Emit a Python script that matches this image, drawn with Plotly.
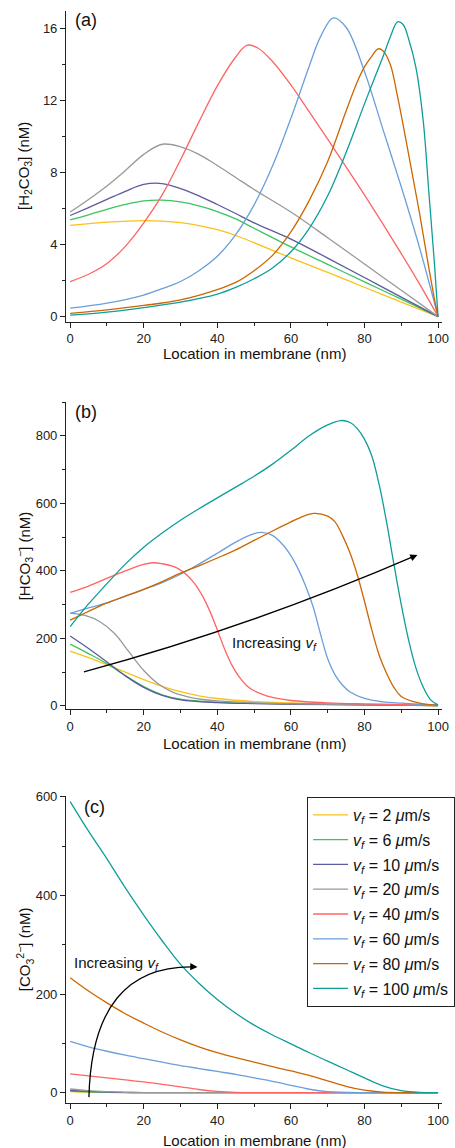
import plotly.graph_objects as go

# ---------------- data ----------------
speeds = [2, 6, 10, 20, 40, 60, 80, 100]
colors = ["#F9C21A", "#3CC462", "#5B5B9E", "#999999", "#FF6464", "#6A9FDB", "#CC6600", "#0E9E9A"]

# Panel (a): [H2CO3] (nM)
xa_2 = [0, 10, 20, 25, 30, 35, 40, 45, 50, 60, 70, 80, 90, 100]
ya_2 = [5.06, 5.24, 5.33, 5.3, 5.21, 5.05, 4.82, 4.5, 4.1, 3.26, 2.45, 1.63, 0.81, 0]
xa_6 = [0, 5, 10, 15, 20, 25, 30, 35, 40, 45, 50, 60, 70, 80, 90, 100]
ya_6 = [5.37, 5.65, 5.95, 6.22, 6.42, 6.46, 6.36, 6.14, 5.83, 5.42, 4.9, 3.87, 2.9, 1.93, 0.97, 0]
xa_10 = [0, 5, 10, 15, 20, 25, 30, 35, 40, 45, 50, 60, 70, 80, 90, 100]
ya_10 = [5.61, 6.05, 6.5, 6.95, 7.33, 7.38, 7.1, 6.7, 6.22, 5.72, 5.2, 4.3, 3.25, 2.17, 1.08, 0]
xa_20 = [0, 5, 10, 15, 20, 25, 30, 35, 40, 45, 50, 60, 70, 80, 90, 100]
ya_20 = [5.8, 6.5, 7.25, 8.1, 9.0, 9.56, 9.42, 9.0, 8.38, 7.72, 7.05, 5.8, 4.38, 2.92, 1.46, 0]
xa_40 = [0, 5, 10, 15, 20, 25, 30, 35, 40, 45, 48, 51, 55, 60, 65, 70, 75, 80, 85, 90, 95, 100]
ya_40 = [1.94, 2.35, 2.95, 3.9, 5.2, 6.75, 8.7, 10.8, 12.8, 14.4, 15.05, 14.9, 14.15, 12.85, 11.35,
         9.85, 8.3, 6.75, 5.15, 3.5, 1.8, 0]
xa_60 = [0, 10, 20, 25, 30, 35, 40, 45, 50, 55, 60, 65, 68, 71.5, 75, 80, 85, 90, 95, 100]
ya_60 = [0.47, 0.75, 1.2, 1.55, 1.95, 2.55, 3.35, 4.55, 6.2, 8.35, 11.0, 13.9, 15.5, 16.57, 16.05,
         13.6, 10.4, 7.2, 3.8, 0]
xa_80 = [0, 10, 20, 30, 40, 45, 50, 55, 60, 65, 70, 75, 78, 80, 82, 83.7, 85, 87, 89, 91, 93,
         95, 97, 99, 100]
ya_80 = [0.18, 0.38, 0.62, 0.93, 1.5, 1.9, 2.55, 3.4, 4.7, 6.45, 8.6, 11.4, 13.0, 13.85, 14.45,
         14.85, 14.75, 14.0, 12.2, 10.1, 7.9, 5.7, 3.3, 1.0, 0]
xa_100 = [0, 10, 20, 30, 40, 45, 50, 55, 60, 65, 70, 75, 80, 85, 87, 89, 90.5, 92, 94, 96,
          97.5, 99, 100]
ya_100 = [0.08, 0.25, 0.5, 0.8, 1.25, 1.62, 2.1, 2.7, 3.6, 4.9, 6.7, 9.1, 11.8, 14.4, 15.5, 16.35,
          16.2, 15.4, 13.8, 10.8, 6.9, 3.0, 0]

# Panel (b): [HCO3-] (nM)
xb_2 = [0, 5, 10, 15, 20, 25, 30, 35, 40, 50, 60, 70, 80, 90, 100]
yb_2 = [162, 143, 122, 100, 78, 58, 42, 30, 22, 13, 9, 6, 4, 3, 1]
xb_6 = [0, 5, 10, 15, 20, 25, 30, 40, 50, 60, 80, 100]
yb_6 = [183, 155, 125, 90, 57, 33, 20, 11, 8, 6, 3, 1]
xb_10 = [0, 5, 10, 15, 20, 25, 30, 40, 50, 60, 80, 100]
yb_10 = [207, 170, 130, 89, 55, 31, 18, 10, 7, 5, 3, 1]
xb_20 = [0, 4, 8, 12, 16, 20, 24, 28, 32, 36, 40, 50, 60, 80, 100]
yb_20 = [275, 268, 250, 215, 160, 105, 65, 40, 27, 19, 15, 9, 6, 4, 1]
xb_40 = [0, 5, 10, 15, 20, 22.5, 25, 28, 30, 32, 34, 36, 38, 40, 42, 44, 46, 48, 50, 55, 60, 70,
         80, 90, 100]
yb_40 = [336, 355, 378, 400, 419, 424, 421, 413, 402, 385, 360, 325, 280, 225, 168, 120, 85, 60, 45,
         25, 16, 9, 6, 4, 2]
xb_60 = [0, 5, 10, 15, 20, 25, 30, 35, 40, 45, 50, 52, 55, 58, 60, 62, 64, 66, 68, 70, 72, 74, 76,
         80, 85, 90, 95, 100]
yb_60 = [274, 290, 305, 325, 345, 365, 390, 420, 452, 485, 510, 514, 505, 475, 445, 405, 355, 295,
         215, 140, 92, 62, 42, 22, 12, 8, 5, 2]
xb_80 = [0, 5, 10, 15, 20, 25, 30, 35, 40, 45, 50, 55, 60, 63, 66.3, 70, 72, 74, 76, 78, 80, 82, 84,
         86, 88, 90, 95, 100]
yb_80 = [254, 280, 305, 325, 345, 368, 393, 415, 438, 462, 490, 518, 545, 560, 570, 562, 545, 505,
         455, 390, 310, 225, 150, 97, 55, 28, 8, 2]
xb_100 = [0, 5, 10, 15, 20, 25, 30, 35, 40, 45, 50, 55, 60, 65, 70, 73.5, 76, 78, 80, 82, 84, 86,
          88, 90, 92, 94, 96, 98, 100]
yb_100 = [235, 302, 362, 420, 470, 512, 550, 584, 616, 648, 680, 716, 757, 800, 832, 845, 840, 822,
          790, 740, 655, 545, 420, 300, 195, 112, 55, 18, 3]

# Panel (c): [CO3 2-] (nM)
xc_2 = [0, 5, 10, 15, 20, 30, 100]
yc_2 = [2, 1, 0.5, 0.2, 0.1, 0, 0]
xc_6 = [0, 5, 10, 15, 20, 30, 100]
yc_6 = [3, 1.5, 0.7, 0.3, 0.1, 0, 0]
xc_10 = [0, 5, 10, 15, 20, 30, 100]
yc_10 = [5, 2.5, 1.2, 0.5, 0.2, 0, 0]
xc_20 = [0, 5, 10, 15, 20, 30, 100]
yc_20 = [7.5, 4, 2, 0.8, 0.3, 0, 0]
xc_40 = [0, 5, 10, 15, 20, 25, 30, 35, 40, 45, 50, 100]
yc_40 = [38, 34, 30, 26, 22, 17, 12, 6.5, 2.5, 0.5, 0, 0]
xc_60 = [0, 5, 10, 15, 20, 25, 30, 35, 40, 45, 50, 55, 60, 65, 70, 80, 100]
yc_60 = [104, 93, 84, 76, 69, 62, 55, 49, 43, 37, 30, 23, 15, 7, 2, 0, 0]
xc_80 = [0, 5, 10, 15, 20, 25, 30, 35, 40, 45, 50, 55, 60, 65, 70, 75, 80, 85, 90, 100]
yc_80 = [233, 206, 182, 160, 141, 123, 107, 93, 81, 71, 62, 53, 44, 35, 24, 13, 5, 1, 0, 0]
xc_100 = [0, 5, 10, 15, 20, 25, 30, 35, 40, 45, 50, 55, 60, 65, 70, 75, 80, 85, 90, 95, 100]
yc_100 = [590, 530, 474, 415, 360, 308, 260, 222, 189, 161, 137, 117, 99, 81, 64, 47, 30, 14, 4, 0.5, 0]

panel_a = [(xa_2, ya_2), (xa_6, ya_6), (xa_10, ya_10), (xa_20, ya_20),
           (xa_40, ya_40), (xa_60, ya_60), (xa_80, ya_80), (xa_100, ya_100)]
panel_b = [(xb_2, yb_2), (xb_6, yb_6), (xb_10, yb_10), (xb_20, yb_20),
           (xb_40, yb_40), (xb_60, yb_60), (xb_80, yb_80), (xb_100, yb_100)]
panel_c = [(xc_2, yc_2), (xc_6, yc_6), (xc_10, yc_10), (xc_20, yc_20),
           (xc_40, yc_40), (xc_60, yc_60), (xc_80, yc_80), (xc_100, yc_100)]

x_ticks = [0, 20, 40, 60, 80, 100]
ya_ticks = [0, 4, 8, 12, 16]
yb_ticks = [0, 200, 400, 600, 800]
yc_ticks = [0, 200, 400, 600]

# ---------------- figure ----------------
W, H = 455, 1148
FONT = "Liberation Sans, Arial, Helvetica, sans-serif"
fig = go.Figure()

panels = [panel_a, panel_b, panel_c]
for p, series in enumerate(panels, start=1):
    xn = "x" if p == 1 else f"x{p}"
    yn = "y" if p == 1 else f"y{p}"
    for i, (xs, ys) in enumerate(series):
        fig.add_trace(go.Scatter(
            x=xs, y=ys, mode="lines", xaxis=xn, yaxis=yn,
            line=dict(color=colors[i], width=1.3, shape="spline", smoothing=1.0),
            name=f"<i>v</i><sub><i>f</i></sub> = {speeds[i]} <i>μ</i>m/s",
            legendgroup=f"g{i}",
            showlegend=(p == 3),
            hoverinfo="skip",
        ))

xdom = [67 / W, 448 / W]
ydoms = {1: [1 - 321.7 / H, 1 - 11 / H],
         2: [1 - 709.3 / H, 1 - 402 / H],
         3: [1 - 1103.3 / H, 1 - 795.7 / H]}
yranges = {1: [-0.28, 16.95], 2: [-10, 900], 3: [-21.5, 602]}
yticks = {1: (ya_ticks, 2), 2: (yb_ticks, 100), 3: (yc_ticks, 100)}

axis_common = dict(showline=True, linecolor="#222", linewidth=1.3, ticks="outside",
                   ticklen=5, tickwidth=1.2, tickcolor="#222", showgrid=False,
                   zeroline=False, automargin=False,
                   tickfont=dict(family=FONT, size=13, color="#222"))

layout = {}
for p in (1, 2, 3):
    xk = "xaxis" if p == 1 else f"xaxis{p}"
    yk = "yaxis" if p == 1 else f"yaxis{p}"
    yname = "y" if p == 1 else f"y{p}"
    xname = "x" if p == 1 else f"x{p}"
    tv, minor_step = yticks[p]
    layout[xk] = dict(axis_common, domain=xdom, range=[-1.1, 101.1], anchor=yname,
                      tickvals=x_ticks,
                      minor=dict(dtick=10, tick0=0, ticklen=3, ticks="outside",
                                 tickcolor="#222", tickwidth=1))
    layout[yk] = dict(axis_common, domain=ydoms[p], range=yranges[p], anchor=xname,
                      tickvals=tv,
                      minor=dict(dtick=minor_step, tick0=0, ticklen=3, ticks="outside",
                                 tickcolor="#222", tickwidth=1))

fig.update_layout(**layout)

annotations = []
# panel labels
for lab, px, py in (("(a)", 74, 20), ("(b)", 74, 412), ("(c)", 83, 807)):
    annotations.append(dict(text=lab, x=px / W, y=1 - py / H,
                            xref="paper", yref="paper", xanchor="left", yanchor="middle",
                            showarrow=False, font=dict(family=FONT, size=18, color="#111")))
# y titles
ytitles = ["[H<sub>2</sub>CO<sub>3</sub>] (nM)",
           "[HCO<sub>3</sub><sup>−</sup>] (nM)",
           "[CO<sub>3</sub><sup>2−</sup>] (nM)"]
for p, t in zip((1, 2, 3), ytitles):
    d = ydoms[p]
    annotations.append(dict(text=t, x=25 / W, y=(d[0] + d[1]) / 2, xref="paper", yref="paper",
                            xanchor="center", yanchor="middle", textangle=-90, showarrow=False,
                            font=dict(family=FONT, size=15, color="#111")))
# x titles
for py in (353, 743, 1140):
    annotations.append(dict(text="Location in membrane (nm)", x=(71 + 444) / 2 / W,
                            y=1 - py / H, xref="paper", yref="paper",
                            xanchor="center", yanchor="middle", showarrow=False,
                            font=dict(family=FONT, size=15, color="#111")))
# "Increasing v_f" labels
inc = "Increasing <i>v</i><sub><i>f</i></sub>"
annotations.append(dict(text=inc, x=55.5, y=186, xref="x2", yref="y2", showarrow=False,
                        xanchor="center", yanchor="middle",
                        font=dict(family=FONT, size=15, color="#111")))
annotations.append(dict(text=inc, x=0.5, y=262, xref="x3", yref="y3", showarrow=False,
                        xanchor="left", yanchor="middle",
                        font=dict(family=FONT, size=15, color="#111")))
# arrowheads
annotations.append(dict(text="", x=94.4, y=447, ax=92.1, ay=436.3, xref="x2", yref="y2",
                        axref="x2", ayref="y2", showarrow=True, arrowhead=2, arrowsize=1.2,
                        arrowwidth=1.2, arrowcolor="#000"))
annotations.append(dict(text="", x=34.6, y=255, ax=32.6, ay=255.5, xref="x3", yref="y3",
                        axref="x3", ayref="y3", showarrow=True, arrowhead=2, arrowsize=1.2,
                        arrowwidth=1.2, arrowcolor="#000"))

shapes = [
    dict(type="path", xref="x2", yref="y2", path="M 3.75,101 Q 49,234 93.9,445",
         line=dict(color="#000", width=1.3)),
    dict(type="path", xref="x3", yref="y3", path="M 5.1,-9 Q 6,262 34.2,255",
         line=dict(color="#000", width=1.3)),
]

fig.update_layout(
    width=W, height=H,
    margin=dict(l=0, r=0, t=0, b=0),
    paper_bgcolor="white", plot_bgcolor="white",
    font=dict(family=FONT, color="#111"),
    annotations=annotations, shapes=shapes,
    showlegend=True,
    legend=dict(x=311 / W, y=1 - 796.7 / H, xanchor="left", yanchor="top",
                bordercolor="#222", borderwidth=1.2, bgcolor="white",
                font=dict(family=FONT, size=16, color="#111"),
                traceorder="grouped", tracegroupgap=1, itemwidth=35),
)

fig.write_html("out.html")
